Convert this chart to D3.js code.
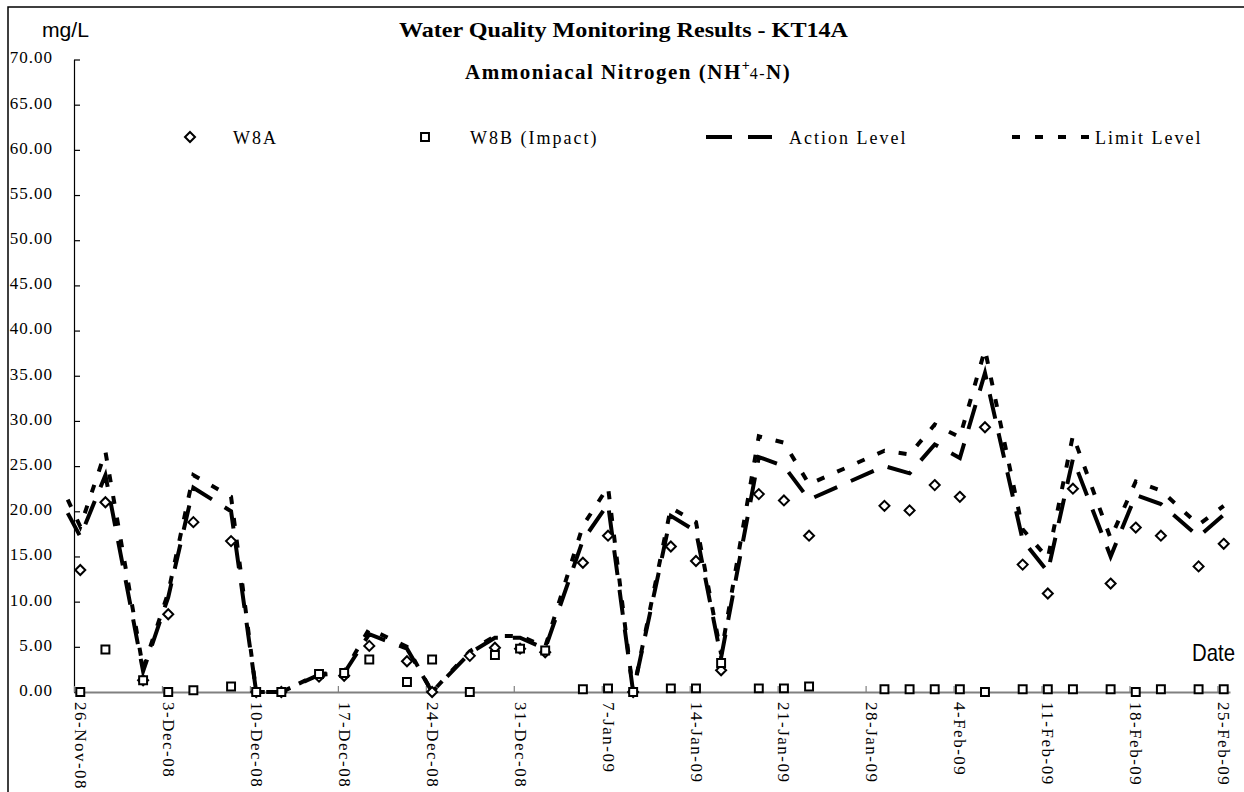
<!DOCTYPE html>
<html>
<head>
<meta charset="utf-8">
<script src="https://cdn.jsdelivr.net/npm/d3@7"></script>
<style>
  body { margin: 0; background: #fff; }
  svg { display: block; }
  .serif { font-family: "Liberation Serif", "Times New Roman", serif; }
  .narrow { font-family: "Liberation Sans Narrow", "Arial Narrow", "Liberation Sans", sans-serif; }
</style>
</head>
<body>
<svg id="chart"></svg>
<script>
// sampling dates (first one lies just left of the axis; only the level lines use it)
var dates = ["25-Nov-08", "26-Nov-08", "28-Nov-08", "1-Dec-08", "3-Dec-08", "5-Dec-08", "8-Dec-08", "10-Dec-08",
  "12-Dec-08", "15-Dec-08", "17-Dec-08", "19-Dec-08", "22-Dec-08", "24-Dec-08", "27-Dec-08", "29-Dec-08",
  "31-Dec-08", "2-Jan-09", "5-Jan-09", "7-Jan-09", "9-Jan-09", "12-Jan-09", "14-Jan-09", "16-Jan-09",
  "19-Jan-09", "21-Jan-09", "23-Jan-09", "29-Jan-09", "31-Jan-09", "2-Feb-09", "4-Feb-09", "6-Feb-09",
  "9-Feb-09", "11-Feb-09", "13-Feb-09", "16-Feb-09", "18-Feb-09", "20-Feb-09", "23-Feb-09", "25-Feb-09"];

var w8a = [null, 13.5, 21.0, 1.3, 8.6, 18.8, 16.7, 0.0, 0.0, 1.7, 1.8, 5.1, 3.4, 0.0, 4.0, 4.9,
  4.8, 4.4, 14.3, 17.3, 0.0, 16.1, 14.5, 2.4, 21.9, 21.2, 17.3, 20.6, 20.1, 22.9, 21.6, 29.3,
  14.1, 10.9, 22.5, 12.0, 18.2, 17.3, 13.9, 16.4];

var w8b = [null, 0.0, 4.7, 1.3, 0.0, 0.2, 0.6, 0.0, 0.0, 2.0, 2.1, 3.6, 1.1, 3.6, 0.0, 4.1,
  4.8, 4.6, 0.3, 0.4, 0.0, 0.4, 0.4, 3.2, 0.4, 0.4, 0.6, 0.3, 0.3, 0.3, 0.3, 0.0,
  0.3, 0.3, 0.3, 0.3, 0.0, 0.3, 0.3, 0.3];

var actionLevel = [19.8, 17.2, 24.0, 2.3, 10.5, 22.6, 20.0, 0.0, 0.0, 1.9, 2.1, 6.4, 4.8, 0.0, 4.3, 6.0,
  6.0, 4.8, 16.8, 20.8, 0.0, 19.5, 17.8, 3.8, 26.0, 25.0, 21.3, 25.0, 24.2, 27.4, 25.9, 35.3,
  16.8, 13.3, 25.8, 15.0, 21.8, 20.8, 17.2, 19.6];

var limitLevel = [21.3, 18.3, 26.6, 2.6, 11.0, 24.0, 21.6, 0.0, 0.0, 2.0, 2.2, 7.0, 5.0, 0.0, 4.5, 6.2,
  6.2, 5.0, 18.4, 22.7, 0.0, 20.4, 18.8, 4.2, 28.3, 27.6, 23.0, 26.7, 26.3, 29.6, 28.2, 37.9,
  18.0, 14.8, 28.4, 17.0, 23.3, 22.3, 18.5, 20.6];

var xTickLabels = ["26-Nov-08", "3-Dec-08", "10-Dec-08", "17-Dec-08", "24-Dec-08", "31-Dec-08", "7-Jan-09",
  "14-Jan-09", "21-Jan-09", "28-Jan-09", "4-Feb-09", "11-Feb-09", "18-Feb-09", "25-Feb-09"];
var yTicks = [0, 5, 10, 15, 20, 25, 30, 35, 40, 45, 50, 55, 60, 65, 70];

var width = 1244, height = 792;
var parse = d3.timeParse("%d-%b-%y");
var fmt = d3.timeFormat("%-d-%b-%y");
var HALF_DAY = 12 * 3600 * 1000;

var rows = dates.map(function (d, i) {
  return { date: parse(d), a: w8a[i], b: w8b[i], action: actionLevel[i], limit: limitLevel[i] };
});

var svg = d3.select("#chart").attr("width", width).attr("height", height);

// outer frame (runs past the right / bottom edge of the picture)
svg.append("rect")
  .attr("x", 8).attr("y", 7).attr("width", 1300).attr("height", 900)
  .attr("fill", "none").attr("stroke", "#000").attr("stroke-width", 1.5);

var first = parse(xTickLabels[0]), last = parse(xTickLabels[xTickLabels.length - 1]);
var x = d3.scaleTime()
  .domain([new Date(+first - HALF_DAY), new Date(+last + HALF_DAY)])
  .range([74, 1230]);

var y = d3.scaleLinear().domain([0, 70]).range([692, 59.5]);

// y axis
var yAxis = svg.append("g")
  .attr("transform", "translate(74,0)")
  .call(d3.axisLeft(y).tickValues(yTicks).tickSize(-6).tickSizeOuter(0).tickPadding(21).tickFormat(d3.format(".2f")));
yAxis.select(".domain").attr("stroke", "#000").attr("stroke-width", 1.2);
yAxis.selectAll(".tick line").attr("stroke", "#000").attr("stroke-width", 1.2);
yAxis.selectAll(".tick text")
  .attr("class", "serif")
  .attr("dy", "0.2em")
  .style("font-size", "17px")
  .style("letter-spacing", "1px")
  .attr("fill", "#000");

// x axis line + week ticks (between days)
var weekBounds = xTickLabels.map(function (s) { return new Date(+parse(s) - HALF_DAY); });
var xAxis = svg.append("g")
  .attr("transform", "translate(0,692)")
  .call(d3.axisBottom(x).tickValues(weekBounds).tickSize(-6).tickSizeOuter(0).tickFormat(""));
xAxis.select(".domain").attr("stroke", "#808080").attr("stroke-width", 2);
xAxis.selectAll(".tick line").attr("stroke", "#808080").attr("stroke-width", 1.2);

// x tick labels, rotated to read downward
var xLab = svg.append("g")
  .attr("transform", "translate(0,692)")
  .call(d3.axisBottom(x).tickValues(xTickLabels.map(parse)).tickSize(0).tickFormat(fmt));
xLab.select(".domain").remove();
xLab.selectAll(".tick text")
  .attr("class", "serif")
  .attr("transform", "rotate(90)")
  .attr("x", 10).attr("y", 0).attr("dy", "0.35em")
  .style("text-anchor", "start")
  .style("font-size", "17px")
  .style("letter-spacing", "1.5px")
  .attr("fill", "#000");

// level lines
var lineAction = d3.line()
  .x(function (d) { return x(d.date); })
  .y(function (d) { return y(d.action); });
var lineLimit = d3.line()
  .x(function (d) { return x(d.date); })
  .y(function (d) { return y(d.limit); });

svg.append("path").datum(rows)
  .attr("d", lineAction)
  .attr("fill", "none").attr("stroke", "#000").attr("stroke-width", 4)
  .attr("stroke-dasharray", "25,15");
svg.append("path").datum(rows)
  .attr("d", lineLimit)
  .attr("fill", "none").attr("stroke", "#000").attr("stroke-width", 4)
  .attr("stroke-dasharray", "8,14");

// markers
var diamond = d3.symbol().type(d3.symbolDiamond2).size(64);
var square = d3.symbol().type(d3.symbolSquare2).size(80);

svg.append("g").selectAll("path")
  .data(rows.filter(function (d) { return d.a != null; }))
  .enter().append("path")
  .attr("d", diamond)
  .attr("transform", function (d) { return "translate(" + x(d.date) + "," + y(d.a) + ")"; })
  .attr("fill", "#fff").attr("stroke", "#000").attr("stroke-width", 2);

svg.append("g").selectAll("path")
  .data(rows.filter(function (d) { return d.b != null; }))
  .enter().append("path")
  .attr("d", square)
  .attr("transform", function (d) { return "translate(" + x(d.date) + "," + y(d.b) + ")"; })
  .attr("fill", "#fff").attr("stroke", "#000").attr("stroke-width", 2);

// titles
svg.append("text").attr("class", "narrow")
  .attr("x", 42).attr("y", 37)
  .attr("textLength", 47).attr("lengthAdjust", "spacingAndGlyphs")
  .style("font-size", "21px")
  .text("mg/L");

svg.append("text").attr("class", "serif")
  .attr("x", 399).attr("y", 37)
  .attr("textLength", 449).attr("lengthAdjust", "spacingAndGlyphs")
  .style("font-size", "21px").style("font-weight", "bold")
  .text("Water Quality Monitoring Results - KT14A");

var sub = svg.append("text").attr("class", "serif")
  .attr("x", 465).attr("y", 79)
  .style("font-size", "21px").style("font-weight", "bold").style("letter-spacing", "1.5px");
sub.append("tspan").text("Ammoniacal Nitrogen (NH");
sub.append("tspan").attr("dy", -9).style("font-size", "14px").style("letter-spacing", "0px").text("+");
sub.append("tspan").attr("dy", 9).style("font-size", "16px").style("font-weight", "normal").text("4-");
sub.append("tspan").text("N)");

svg.append("text").attr("class", "narrow")
  .attr("x", 1192).attr("y", 661)
  .attr("textLength", 43).attr("lengthAdjust", "spacingAndGlyphs")
  .style("font-size", "24px")
  .text("Date");

// legend
var leg = svg.append("g").attr("class", "serif").style("font-size", "18px").style("letter-spacing", "2px");
var legY = 137;
leg.append("path").attr("d", diamond).attr("transform", "translate(190," + legY + ")")
  .attr("fill", "#fff").attr("stroke", "#000").attr("stroke-width", 2);
leg.append("text").attr("x", 233).attr("y", legY + 7).text("W8A");
leg.append("path").attr("d", square).attr("transform", "translate(425," + legY + ")")
  .attr("fill", "#fff").attr("stroke", "#000").attr("stroke-width", 2);
leg.append("text").attr("x", 470).attr("y", legY + 7).text("W8B (Impact)");
leg.append("line").attr("x1", 706).attr("x2", 772).attr("y1", legY).attr("y2", legY)
  .attr("stroke", "#000").attr("stroke-width", 4).attr("stroke-dasharray", "26,16");
leg.append("text").attr("x", 789).attr("y", legY + 7).text("Action Level");
leg.append("line").attr("x1", 1012).attr("x2", 1089).attr("y1", legY).attr("y2", legY)
  .attr("stroke", "#000").attr("stroke-width", 4).attr("stroke-dasharray", "8,15");
leg.append("text").attr("x", 1095).attr("y", legY + 7).text("Limit Level");
</script>
</body>
</html>
